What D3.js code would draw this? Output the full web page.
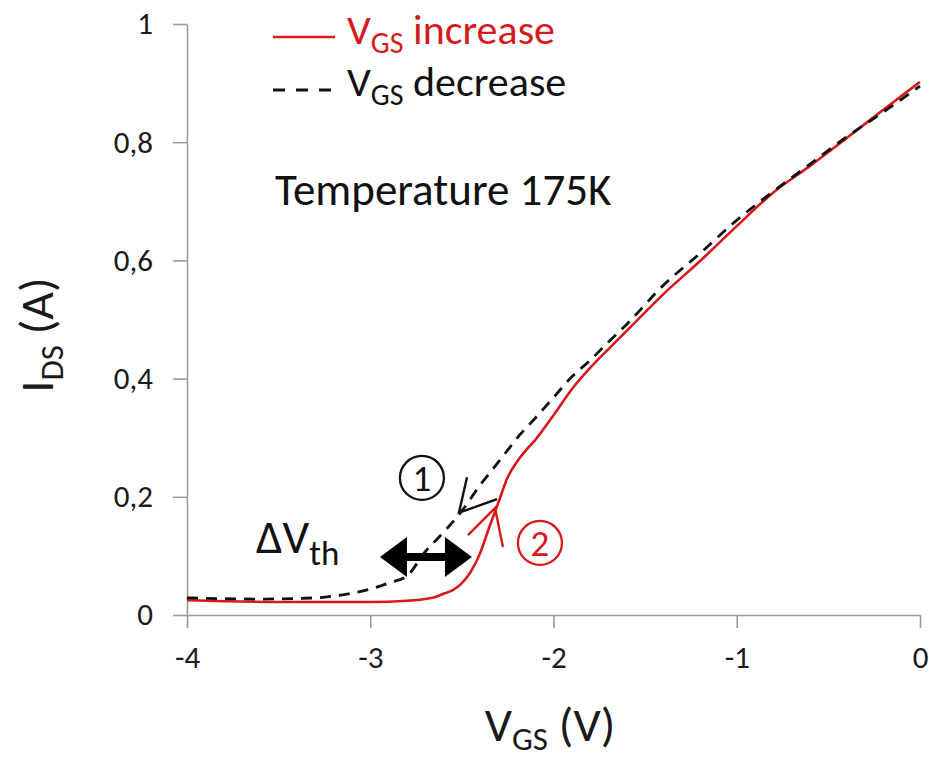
<!DOCTYPE html>
<html>
<head>
<meta charset="utf-8">
<script src="https://cdn.jsdelivr.net/npm/d3@7"></script>
<style>
  body { margin: 0; background: #fff; }
  svg { display: block; font-family: Carlito, Lato, sans-serif; }
</style>
</head>
<body>
<svg id="chart" width="929" height="760"></svg>
<script>
// Data
const vgsIncrease = [-4, -3.5, -3, -2.8, -2.7, -2.65, -2.6, -2.55, -2.5, -2.45, -2.4, -2.35, -2.3, -2.25, -2.2, -2.15, -2.1, -2, -1.9, -1.8, -1.7, -1.6, -1.4, -1.2, -1, -0.8, -0.6, -0.4, -0.2, 0];
const idsIncrease = [0.025, 0.022, 0.022, 0.024, 0.027, 0.030, 0.036, 0.042, 0.054, 0.074, 0.105, 0.149, 0.191, 0.233, 0.259, 0.279, 0.296, 0.338, 0.382, 0.418, 0.450, 0.481, 0.543, 0.599, 0.658, 0.715, 0.760, 0.807, 0.855, 0.902];
const vgsDecrease = [-4, -3.6, -3.3, -3.2, -3.1, -3, -2.9, -2.8, -2.7, -2.6, -2.5, -2.4, -2.3, -2.25, -2.2, -2.1, -2, -1.9, -1.8, -1.7, -1.6, -1.4, -1.2, -1, -0.8, -0.6, -0.4, -0.2, 0];
const idsDecrease = [0.029, 0.027, 0.029, 0.032, 0.037, 0.044, 0.054, 0.066, 0.107, 0.140, 0.176, 0.220, 0.259, 0.279, 0.299, 0.333, 0.368, 0.403, 0.431, 0.462, 0.492, 0.558, 0.612, 0.668, 0.717, 0.763, 0.809, 0.851, 0.895];
const xTicks = [-4, -3, -2, -1, 0];
const yTicks = [0, 0.2, 0.4, 0.6, 0.8, 1];
// annotation anchors (data units)
const arrow1 = [[-2.472, 0.233], [-2.516, 0.173], [-2.308, 0.196]];
const arrow2 = [[-2.467, 0.135], [-2.319, 0.181], [-2.276, 0.115]];
const label1 = [-2.718, 0.232];
const label2 = [-2.074, 0.122];
const deltaVth = [-2.947, -2.445, 0.098];

const red = "#d7191c";
const width = 929, height = 760;
const margin = { top: 24, right: 9, bottom: 145, left: 187 };

const svg = d3.select("#chart");
const x = d3.scaleLinear().domain([-4, 0]).range([margin.left, width - margin.right]);
const y = d3.scaleLinear().domain([0, 1]).range([height - margin.bottom, margin.top]);

// axes
const yAxis = svg.append("g")
  .attr("transform", `translate(${margin.left},0)`)
  .call(d3.axisLeft(y).tickValues(yTicks).tickSize(14).tickSizeOuter(0).tickPadding(20)
    .tickFormat(d => String(d).replace(".", ",")));
const xAxis = svg.append("g")
  .attr("transform", `translate(0,${y(0)})`)
  .call(d3.axisBottom(x).tickValues(xTicks).tickSize(13).tickSizeOuter(0).tickPadding(18)
    .tickFormat(d => String(d)));
[xAxis, yAxis].forEach(a => {
  a.select(".domain").attr("stroke", "#9a9a9a").attr("stroke-width", 1.6);
  a.selectAll(".tick line").attr("stroke", "#9a9a9a").attr("stroke-width", 1.6);
  a.selectAll(".tick text").attr("fill", "#1a1a1a").attr("font-size", 31)
    .attr("font-family", "Carlito, Lato, sans-serif");
});

// axis titles
const xt = svg.append("text").attr("x", 550).attr("y", 741).attr("text-anchor", "middle")
  .attr("font-size", 48).attr("fill", "#1a1a1a");
xt.append("tspan").text("V");
xt.append("tspan").attr("font-size", 33).attr("dy", 9).text("GS");
xt.append("tspan").attr("dy", -9).text(" (V)");

const yt = svg.append("text").attr("transform", "translate(53,335) rotate(-90)")
  .attr("text-anchor", "middle").attr("font-size", 48).attr("fill", "#1a1a1a");
yt.append("tspan").text("I");
yt.append("tspan").attr("font-size", 33).attr("dy", 10).text("DS");
yt.append("tspan").attr("dy", -10).text(" (A)");

// curves
const line = d3.line().x(d => x(d[0])).y(d => y(d[1])).curve(d3.curveMonotoneX);
const incData = vgsIncrease.map((v, i) => [v, idsIncrease[i]]);
const decData = vgsDecrease.map((v, i) => [v, idsDecrease[i]]);

svg.append("path").datum(incData).attr("d", line)
  .attr("fill", "none").attr("stroke", red).attr("stroke-width", 2.6);
svg.append("path").datum(decData).attr("d", line)
  .attr("fill", "none").attr("stroke", "#111").attr("stroke-width", 2.8)
  .attr("stroke-dasharray", "11,8");

// legend
const lg = svg.append("g");
lg.append("line").attr("x1", 273).attr("x2", 335).attr("y1", 37).attr("y2", 37)
  .attr("stroke", red).attr("stroke-width", 2.6);
lg.append("line").attr("x1", 273).attr("x2", 333).attr("y1", 90).attr("y2", 90)
  .attr("stroke", "#111").attr("stroke-width", 2.8).attr("stroke-dasharray", "12,11");
const l1 = lg.append("text").attr("x", 347).attr("y", 44).attr("font-size", 42).attr("fill", red);
l1.append("tspan").text("V");
l1.append("tspan").attr("font-size", 30).attr("dy", 9).text("GS");
l1.append("tspan").attr("dy", -9).text(" increase");
const l2 = lg.append("text").attr("x", 347).attr("y", 96).attr("font-size", 42).attr("fill", "#111");
l2.append("tspan").text("V");
l2.append("tspan").attr("font-size", 30).attr("dy", 9).text("GS");
l2.append("tspan").attr("dy", -9).text(" decrease");

svg.append("text").attr("x", 275).attr("y", 205).attr("font-size", 45).attr("fill", "#111")
  .text("Temperature 175K");

// annotations
const ptLine = d3.line().x(d => x(d[0])).y(d => y(d[1]));
svg.append("path").attr("d", ptLine(arrow1)).attr("fill", "none")
  .attr("stroke", "#111").attr("stroke-width", 2.4);
svg.append("path").attr("d", ptLine(arrow2)).attr("fill", "none")
  .attr("stroke", red).attr("stroke-width", 2.4);

[[label1, "1", "#111"], [label2, "2", red]].forEach(([p, t, c]) => {
  svg.append("circle").attr("cx", x(p[0])).attr("cy", y(p[1])).attr("r", 22)
    .attr("fill", "none").attr("stroke", c).attr("stroke-width", 2.3);
  svg.append("text").attr("x", x(p[0])).attr("y", y(p[1]) + 13).attr("text-anchor", "middle")
    .attr("font-size", 37).attr("fill", c).text(t);
});

// delta Vth double arrow
const xa = x(deltaVth[0]), xb = x(deltaVth[1]), ya = y(deltaVth[2]);
const hl = 27, hh = 20, sh = 4;
svg.append("path").attr("fill", "#000").attr("d", [
  "M", xa, ya, "L", xa + hl, ya - hh, "L", xa + hl, ya - sh, "L", xb - hl, ya - sh,
  "L", xb - hl, ya - hh, "L", xb, ya, "L", xb - hl, ya + hh, "L", xb - hl, ya + sh,
  "L", xa + hl, ya + sh, "L", xa + hl, ya + hh, "Z"].join(" "));

const dv = svg.append("text").attr("x", 256).attr("y", 553).attr("font-size", 47).attr("fill", "#111");
dv.append("tspan").text("ΔV");
dv.append("tspan").attr("font-size", 35).attr("dy", 12).text("th");
</script>
</body>
</html>
